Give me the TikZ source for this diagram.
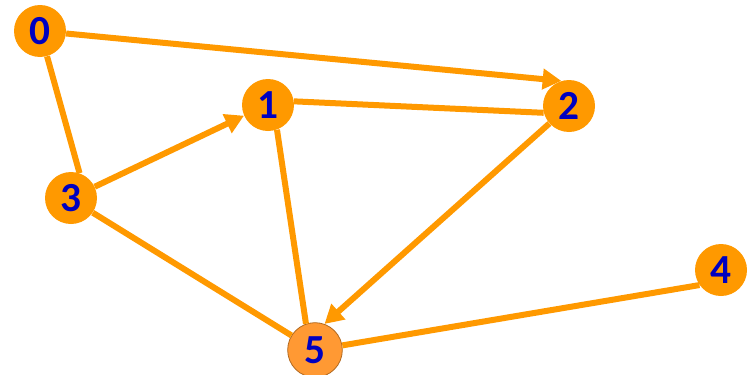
\documentclass[tikz,border=0pt]{standalone}
\usepackage{fontspec}
\setmainfont{Carlito}
\usetikzlibrary{arrows.meta}

\definecolor{vertexorange}{HTML}{FF9900}
\definecolor{lightorange}{HTML}{FF9933}
\definecolor{rimbrown}{HTML}{B0681E}
\definecolor{labelblue}{HTML}{0000C0}

\begin{document}
\begin{tikzpicture}[
    x=0.75pt, y=-0.75pt,
    vertex/.style={circle, fill=vertexorange, minimum size=39pt, inner sep=0pt, text=labelblue, font=\fontsize{31}{33}\selectfont\bfseries},
    target/.style={vertex, fill=lightorange, draw=rimbrown, line width=0.6pt, minimum size=41pt},
    edge/.style={draw=vertexorange, line width=4.5pt},
    arrow/.style={edge, -{Triangle[length=14pt, width=15pt]}}
]
    \useasboundingbox (0,0) rectangle (754,375);

    \node[vertex] (v0) at (40,31) {0};
    \node[vertex] (v1) at (268,105) {1};
    \node[vertex] (v2) at (569,106) {2};
    \node[vertex] (v3) at (71,198) {3};
    \node[vertex] (v4) at (721,270) {4};
    \node[target] (v5) at (315,350) {5};

    \draw[edge] (v0) -- (v3.71);
    \draw[edge] (v1.8) -- (v2.195);
    \draw[edge] (v4.215) -- (v5);
    \draw[edge] (v3.-34) -- (v5);
    \draw[edge] (v1.-70) -- (v5.109);

    \draw[arrow] (v0) -- (v2.107);
    \draw[arrow] (v3) -- (v1.204);
    \draw[arrow] (v2) -- (v5.70);
\end{tikzpicture}
\end{document}
